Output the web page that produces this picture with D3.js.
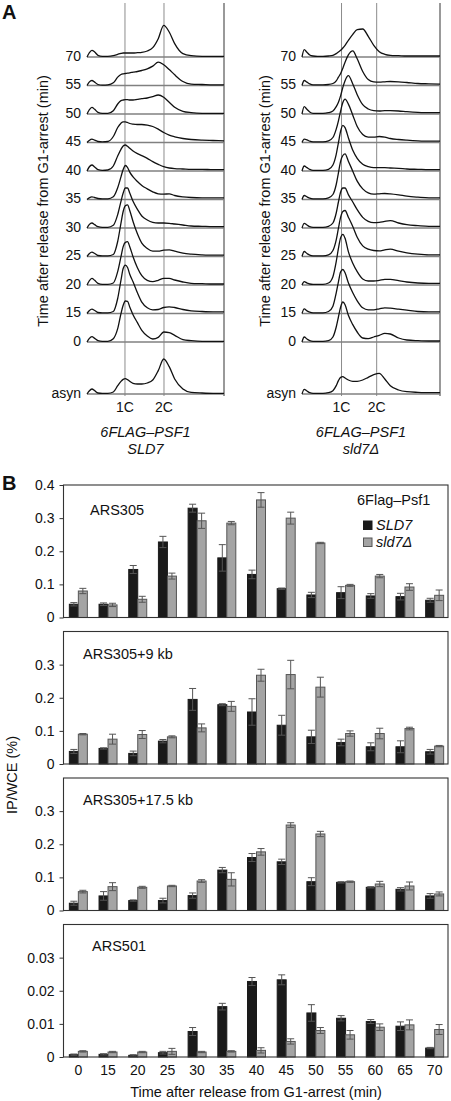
<!DOCTYPE html>
<html>
<head>
<meta charset="utf-8">
<script src="https://cdn.jsdelivr.net/npm/d3@7/dist/d3.min.js"></script>
<style>
  html, body { margin: 0; padding: 0; background: #fff; }
  svg { display: block; }
</style>
</head>
<body>
<svg id="chart" width="451" height="1101"></svg>
<script>
// ---------------- Panel A data (flow cytometry histograms) ----------------
const channels = [0,4,9,14,20,28,38,48,56,62,66,70,74,78,84,92,100,110,120,130,140,150,160,175,190,210,230,250];
const rowLabels = ['70','55','50','45','40','35','30','25','20','15','0'];
const asynLabel = 'asyn';
const dnaLabels = ['1C', '2C'];

// 6FLAG-PSF1 SLD7, rows in order of rowLabels
const histSLD7 = [
  [0,12,20,15,5,2,2,4,8,11,12,12,12,12,12,13,14,18,28,55,95,75,40,10,4,2,2,2],
  [0,10,15,10,3,1,2,8,25,33,35,36,37,38,40,42,45,50,58,70,62,48,32,12,4,3,2,2],
  [0,12,20,14,5,2,2,10,30,40,42,43,43,42,42,44,46,48,52,57,50,35,20,8,4,2,2,2],
  [0,6,10,7,3,2,3,18,45,58,62,62,60,57,55,54,54,52,48,40,30,22,17,12,9,7,6,5],
  [0,12,18,12,4,2,3,15,45,65,75,78,74,68,60,52,46,38,28,20,13,9,7,6,5,5,4,4],
  [0,5,8,6,3,2,2,8,35,68,90,102,96,82,68,54,42,32,23,17,16,17,12,8,6,5,5,5],
  [0,10,15,10,4,2,2,8,40,80,105,120,120,105,80,56,36,24,17,15,15,14,12,9,6,5,4,4],
  [0,8,13,9,3,2,2,6,45,100,135,152,155,138,105,68,40,24,16,16,19,20,16,10,7,5,4,4],
  [0,12,20,14,5,2,2,6,40,85,115,128,130,115,85,52,28,14,10,14,20,20,15,9,5,4,3,3],
  [0,8,13,9,3,2,2,6,45,100,135,145,138,118,95,62,34,17,11,12,18,20,18,12,8,6,5,5],
  [0,10,16,11,4,2,2,10,40,85,110,123,122,105,82,58,35,18,9,14,30,28,20,7,4,2,2,2]
];
const asynSLD7 = [0,9,15,10,3,2,2,6,25,38,44,46,43,38,32,30,30,33,42,70,105,82,45,15,5,3,2,2];

// 6FLAG-PSF1 sld7Δ
const histSld7d = [
  [0,22,14,6,3,2,2,3,5,10,15,20,27,35,50,68,82,84,62,35,16,8,5,4,3,3,3,3],
  [0,15,10,5,2,2,2,3,6,14,25,36,52,70,92,104,80,42,18,11,10,11,12,11,9,6,5,4],
  [0,22,14,6,2,2,2,4,9,22,35,55,80,100,115,90,58,28,15,10,9,10,10,9,7,5,4,4],
  [0,10,8,4,2,2,2,5,15,40,65,95,120,130,115,82,48,24,16,16,18,16,12,9,7,5,4,4],
  [0,15,10,5,2,2,2,5,18,50,85,120,137,130,100,62,38,20,13,10,10,10,9,8,6,5,4,4],
  [0,12,8,4,2,2,2,5,15,45,80,115,132,137,115,85,55,32,20,16,17,18,17,14,10,7,5,5],
  [0,14,9,4,2,2,2,5,15,45,78,108,120,120,100,78,55,32,20,16,17,20,22,15,10,7,5,5],
  [0,15,9,4,2,2,2,5,18,50,85,118,135,138,118,90,58,32,22,18,17,20,22,16,11,7,5,5],
  [0,10,6,3,2,2,2,6,25,70,110,142,152,140,100,65,40,18,12,12,14,17,17,13,9,6,5,5],
  [0,14,8,4,2,2,2,6,22,62,95,125,132,122,92,62,38,17,11,11,14,17,16,13,10,6,5,5],
  [0,15,9,4,2,2,2,4,15,45,75,105,120,112,80,52,30,12,10,15,20,26,24,12,6,4,3,3]
];
const asynSld7d = [0,14,9,4,2,2,2,4,10,25,40,50,52,48,42,38,38,42,50,58,62,45,25,12,7,5,4,4];

// channel of the 1C and 2C peaks in each panel
const peaksSLD7 = [69.3, 140.5];
const peaksSld7d = [71.6, 135.3];

// ---------------- Panel B data (ChIP, IP/WCE %) ----------------
const times = ['0','15','20','25','30','35','40','45','50','55','60','65','70'];
const sites = ['ARS305', 'ARS305+9 kb', 'ARS305+17.5 kb', 'ARS501'];

const ars305_SLD7      = [0.040,0.040,0.145,0.228,0.330,0.180,0.130,0.087,0.068,0.075,0.065,0.063,0.052];
const ars305_SLD7_err  = [0.005,0.004,0.012,0.017,0.012,0.040,0.013,0.002,0.008,0.018,0.007,0.010,0.006];
const ars305_sld7d     = [0.080,0.038,0.055,0.125,0.292,0.285,0.355,0.300,0.225,0.097,0.125,0.092,0.067];
const ars305_sld7d_err = [0.008,0.005,0.009,0.009,0.023,0.005,0.022,0.018,0.002,0.003,0.005,0.010,0.016];

const ars305_9kb_SLD7      = [0.038,0.047,0.032,0.069,0.195,0.179,0.157,0.117,0.082,0.065,0.052,0.052,0.037];
const ars305_9kb_SLD7_err  = [0.006,0.002,0.007,0.005,0.033,0.003,0.040,0.030,0.020,0.010,0.012,0.018,0.007];
const ars305_9kb_sld7d     = [0.090,0.075,0.089,0.082,0.109,0.174,0.268,0.270,0.232,0.092,0.092,0.107,0.054];
const ars305_9kb_sld7d_err = [0.002,0.015,0.012,0.003,0.012,0.015,0.018,0.043,0.030,0.008,0.016,0.004,0.002];

const ars305_17kb_SLD7      = [0.022,0.044,0.030,0.030,0.045,0.122,0.160,0.147,0.087,0.085,0.070,0.064,0.044];
const ars305_17kb_SLD7_err  = [0.006,0.013,0.002,0.007,0.008,0.008,0.012,0.008,0.012,0.002,0.002,0.005,0.007];
const ars305_17kb_sld7d     = [0.057,0.072,0.070,0.074,0.089,0.094,0.177,0.258,0.231,0.087,0.080,0.074,0.050];
const ars305_17kb_sld7d_err = [0.004,0.012,0.003,0.002,0.004,0.020,0.010,0.007,0.008,0.002,0.008,0.012,0.006];

const ars501_SLD7      = [0.0007,0.0008,0.0005,0.0013,0.0077,0.0152,0.0228,0.0233,0.0133,0.0117,0.0107,0.0093,0.0027];
const ars501_SLD7_err  = [0.0002,0.0002,0.0002,0.0004,0.0012,0.0010,0.0012,0.0015,0.0025,0.0008,0.0006,0.0013,0.0002];
const ars501_sld7d     = [0.0017,0.0015,0.0015,0.0017,0.0015,0.0017,0.0020,0.0047,0.0080,0.0067,0.0090,0.0097,0.0083];
const ars501_sld7d_err = [0.0002,0.0002,0.0002,0.0009,0.0002,0.0002,0.0008,0.0008,0.0009,0.0013,0.0010,0.0015,0.0015];

const yMax = [0.4, 0.4, 0.4, 0.04];
const yTicks = [
  [0, 0.1, 0.2, 0.3, 0.4],
  [0, 0.1, 0.2, 0.3],
  [0, 0.1, 0.2, 0.3],
  [0, 0.01, 0.02, 0.03]
];
const seriesNames = ['SLD7', 'sld7Δ'];

// ---------------- drawing ----------------
const FONT = "'Liberation Sans', Arial, Helvetica, sans-serif";
const svg = d3.select('#chart').style('font-family', FONT);

svg.append('text').attr('x', 2).attr('y', 19).text('A')
  .attr('font-size', 20).attr('font-weight', 'bold').attr('fill', '#111');
svg.append('text').attr('x', 2).attr('y', 490).text('B')
  .attr('font-size', 20).attr('font-weight', 'bold').attr('fill', '#111');

const yRow = d3.scalePoint().domain(rowLabels).range([57, 342]);
const yAsyn = 394;
const hScale = d3.scaleLinear().domain([0, 150]).range([0, 50]);

function drawHistPanel(x0, x1, rows, asyn, peaks, ylabX, geno2) {
  const g = svg.append('g');
  const x = d3.scaleLinear().domain([0, 250]).range([x0, x1]);
  peaks.forEach(p => {
    g.append('line').attr('x1', x(p)).attr('x2', x(p)).attr('y1', 3).attr('y2', 396)
      .attr('stroke', '#8c8c8c').attr('stroke-width', 1);
  });
  g.append('line').attr('x1', x1).attr('x2', x1).attr('y1', 3).attr('y2', 396)
    .attr('stroke', '#555').attr('stroke-width', 1.2);

  const all = rows.map((r, i) => ({ label: rowLabels[i], base: yRow(rowLabels[i]), vals: r }));
  all.push({ label: asynLabel, base: yAsyn, vals: asyn });

  all.forEach(r => {
    g.append('line').attr('x1', x0).attr('x2', x1).attr('y1', r.base).attr('y2', r.base)
      .attr('stroke', '#808080').attr('stroke-width', 1.5);
  });
  all.forEach(r => {
    const line = d3.line()
      .x((v, j) => x(channels[j]))
      .y(v => r.base - hScale(v))
      .curve(d3.curveMonotoneX);
    g.append('path').attr('d', line(r.vals)).attr('fill', 'none')
      .attr('stroke', '#111').attr('stroke-width', 1.3).attr('stroke-linejoin', 'round');
    g.append('text').attr('x', x0 - 6).attr('y', r.base - 1).attr('dy', '0.35em')
      .attr('text-anchor', 'end').attr('font-size', 14).attr('fill', '#111').text(r.label);
  });

  dnaLabels.forEach((t, i) => {
    g.append('text').attr('x', x(peaks[i])).attr('y', 412).attr('text-anchor', 'middle')
      .attr('font-size', 14).attr('fill', '#111').text(t);
  });
  const cx = (x0 + x1) / 2 - 10;
  g.append('text').attr('x', cx).attr('y', 437).attr('text-anchor', 'middle')
    .attr('font-size', 14.5).attr('font-style', 'italic').attr('fill', '#111').text('6FLAG–PSF1');
  g.append('text').attr('x', cx).attr('y', 454).attr('text-anchor', 'middle')
    .attr('font-size', 14.5).attr('font-style', 'italic').attr('fill', '#111').text(geno2);

  g.append('text').attr('transform', `translate(${ylabX},201) rotate(-90)`)
    .attr('text-anchor', 'middle').attr('dy', '0.35em')
    .attr('font-size', 14.5).attr('fill', '#111')
    .text('Time after release from G1-arrest (min)');
}

drawHistPanel(87, 224, histSLD7, asynSLD7, peaksSLD7, 43, 'SLD7');
drawHistPanel(302, 440, histSld7d, asynSld7d, peaksSld7d, 265, 'sld7Δ');

// ---------------- Panel B ----------------
const frameL = 63.5, frameR = 448;
const x = d3.scaleBand().domain(times).range([63.5, 449.5]).padding(0);
const tops = d3.scalePoint().domain(sites).range([485, 924.5]);
const plotH = 132.5;
const bw = 9;

const sData = [
  [ars305_SLD7, ars305_SLD7_err, ars305_sld7d, ars305_sld7d_err],
  [ars305_9kb_SLD7, ars305_9kb_SLD7_err, ars305_9kb_sld7d, ars305_9kb_sld7d_err],
  [ars305_17kb_SLD7, ars305_17kb_SLD7_err, ars305_17kb_sld7d, ars305_17kb_sld7d_err],
  [ars501_SLD7, ars501_SLD7_err, ars501_sld7d, ars501_sld7d_err]
];
const labelOffsets = [[90, 30], [83, 27], [83, 27], [92, 26]];
const barFill = ['#1a1a1a', '#a4a4a4'];
const barStroke = ['#1a1a1a', '#555'];

sites.forEach((site, si) => {
  const top = tops(site);
  const y = d3.scaleLinear().domain([0, yMax[si]]).range([top + plotH, top]);
  const g = svg.append('g');
  const [v1, e1, v2, e2] = sData[si];

  [[v1, e1], [v2, e2]].forEach(([vals, errs], k) => {
    const bx = t => x(t) + x.bandwidth() / 2 - bw + k * bw;
    g.selectAll(null).data(times).enter().append('rect')
      .attr('x', t => bx(t)).attr('width', bw)
      .attr('y', (t, i) => y(vals[i])).attr('height', (t, i) => y(0) - y(vals[i]))
      .attr('fill', barFill[k]).attr('stroke', barStroke[k]).attr('stroke-width', 1);
    times.forEach((t, i) => {
      const cxE = bx(t) + bw / 2;
      const yTop = y(vals[i] + errs[i]), yBot = y(Math.max(0, vals[i] - errs[i]));
      g.append('line').attr('x1', cxE).attr('x2', cxE).attr('y1', yTop).attr('y2', yBot)
        .attr('stroke', '#555').attr('stroke-width', 1);
      g.append('line').attr('x1', cxE - 3.5).attr('x2', cxE + 3.5).attr('y1', yTop).attr('y2', yTop)
        .attr('stroke', '#555').attr('stroke-width', 1);
      g.append('line').attr('x1', cxE - 3.5).attr('x2', cxE + 3.5).attr('y1', yBot).attr('y2', yBot)
        .attr('stroke', '#555').attr('stroke-width', 1);
    });
  });

  g.append('rect').attr('x', frameL).attr('y', top).attr('width', frameR - frameL).attr('height', plotH)
    .attr('fill', 'none').attr('stroke', '#333').attr('stroke-width', 1.1);

  const ax = g.append('g').attr('transform', `translate(${frameL},0)`)
    .call(d3.axisLeft(y).tickValues(yTicks[si]).tickSize(4).tickPadding(5)
      .tickFormat(d => d === 0 ? '0' : String(d)));
  ax.select('.domain').remove();
  ax.selectAll('text').attr('font-size', 14).attr('font-family', FONT).attr('fill', '#111');
  ax.selectAll('line').attr('stroke', '#333');

  g.append('text').attr('x', labelOffsets[si][0]).attr('y', top + labelOffsets[si][1])
    .attr('font-size', 14.5).attr('fill', '#111').text(site);

  if (si === sites.length - 1) {
    const xa = g.append('g').attr('transform', `translate(0,${top + plotH})`)
      .call(d3.axisBottom(x).tickSize(0).tickPadding(8));
    xa.select('.domain').remove();
    xa.selectAll('text').attr('font-size', 14).attr('font-family', FONT).attr('fill', '#111');
  }
});

// legend (inside first subplot)
const lg = svg.append('g');
lg.append('text').attr('x', 357).attr('y', 505).attr('font-size', 14.5).attr('fill', '#111').text('6Flag–Psf1');
seriesNames.forEach((n, k) => {
  const yy = 521 + k * 17;
  lg.append('rect').attr('x', 363.5).attr('y', yy).attr('width', 8.5).attr('height', 8.5)
    .attr('fill', barFill[k]).attr('stroke', barStroke[k]).attr('stroke-width', 1);
  lg.append('text').attr('x', 376).attr('y', yy + 4).attr('dy', '0.35em')
    .attr('font-size', 14.5).attr('font-style', 'italic').attr('fill', '#111').text(n);
});

// axis titles
svg.append('text').attr('x', 256).attr('y', 1097).attr('text-anchor', 'middle')
  .attr('font-size', 14.5).attr('fill', '#111').text('Time after release from G1-arrest (min)');
svg.append('text').attr('transform', 'translate(12,775) rotate(-90)')
  .attr('text-anchor', 'middle').attr('dy', '0.35em')
  .attr('font-size', 14.5).attr('fill', '#111').text('IP/WCE (%)');
</script>
</body>
</html>
